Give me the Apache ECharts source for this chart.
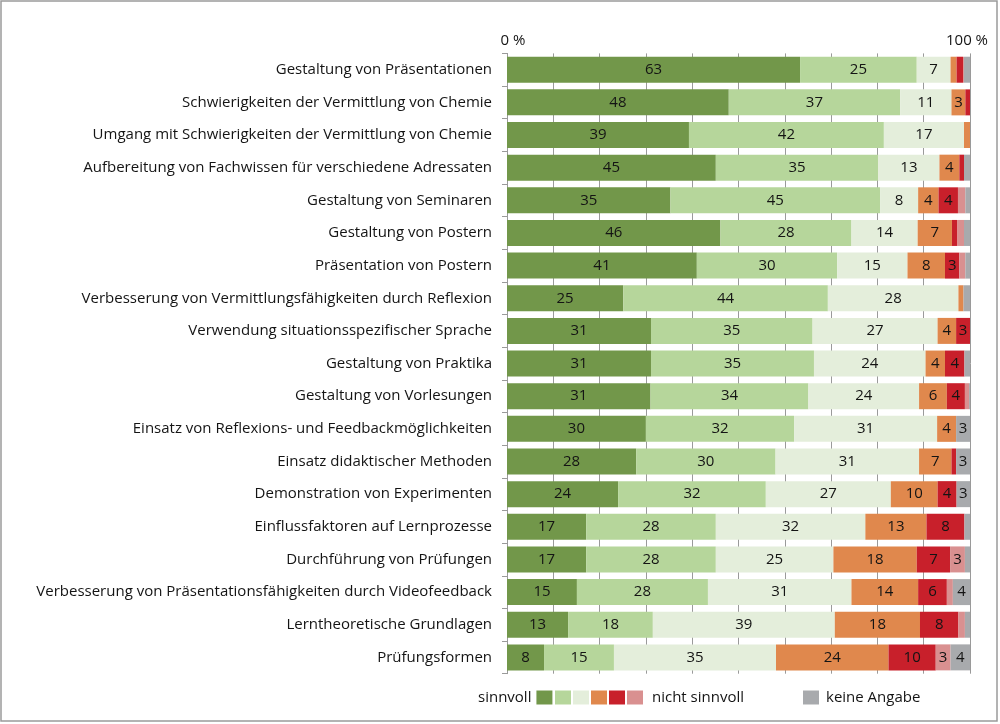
<!DOCTYPE html>
<html>
<head>
<meta charset="utf-8">
<script src="https://cdn.jsdelivr.net/npm/echarts@6/dist/echarts.min.js"></script>
<style>
html,body{margin:0;padding:0;background:#fff;}
#c{width:1000px;height:724px;}
</style>
</head>
<body>
<div id="c"></div>
<script>
const categories = [
  'Gestaltung von Präsentationen',
  'Schwierigkeiten der Vermittlung von Chemie',
  'Umgang mit Schwierigkeiten der Vermittlung von Chemie',
  'Aufbereitung von Fachwissen für verschiedene Adressaten',
  'Gestaltung von Seminaren',
  'Gestaltung von Postern',
  'Präsentation von Postern',
  'Verbesserung von Vermittlungsfähigkeiten durch Reflexion',
  'Verwendung situationsspezifischer Sprache',
  'Gestaltung von Praktika',
  'Gestaltung von Vorlesungen',
  'Einsatz von Reflexions- und Feedbackmöglichkeiten',
  'Einsatz didaktischer Methoden',
  'Demonstration von Experimenten',
  'Einflussfaktoren auf Lernprozesse',
  'Durchführung von Prüfungen',
  'Verbesserung von Präsentationsfähigkeiten durch Videofeedback',
  'Lerntheoretische Grundlagen',
  'Prüfungsformen'
];
const level1 = [63.3,47.9,39.3,45.1,35.3,46.1,41,25.1,31.1,31.1,31,30,27.9,24,17.1,17.1,15.1,13.2,8];
const level2 = [25.2,37,42.1,35.1,45.3,28.3,30.3,44.2,34.9,35.2,34.1,32,30.1,31.9,28,28,28.3,18.3,15.1];
const level3 = [7.3,11.1,17.3,13.2,8.2,14.3,15.2,28.2,27,24.1,23.9,30.9,31,27,32.3,25.4,31,39.3,35];
const level4 = [1.3,3,1.3,4.3,4.4,7.4,8.1,1.1,4,4.2,6,4.1,7,10.1,13.2,18,14.4,18.4,24.3];
const level5 = [1.4,1,0,1.0,4.2,1.2,3.1,0,3,4.2,3.9,0,1,4.1,8.2,7.2,6.2,8.3,10.2];
const level6 = [0.2,0,0,0,1.6,1.4,1.3,0,0,0,0.9,0,0,0,0,3.2,1.3,1.4,3.2];
const noAnswer = [1.3,0,0,1.3,1.0,1.3,1.0,1.4,0,1.2,0.2,3.0,3,2.9,1.2,1.1,3.7,1.1,4.2];
const seriesNames = ['sinnvoll','Stufe 2','Stufe 3','Stufe 4','Stufe 5','nicht sinnvoll','keine Angabe'];
const seriesData = [level1, level2, level3, level4, level5, level6, noAnswer];
const colors = ['#72974a','#b6d69b','#e4eedb','#e0884d','#c8202b','#d99090','#a8aaad'];
const xTickLabels = {0: '0 %', 100: '100 %'};

const FONT = 'Open Sans';
const TXT = '#141414';

const chart = echarts.init(document.getElementById('c'), null, {renderer: 'canvas'});
const series = seriesNames.map((n, i) => ({
  name: n,
  type: 'bar',
  stack: 'total',
  barWidth: 26,
  data: seriesData[i],
  itemStyle: {color: colors[i]},
  label: {
    show: true,
    position: 'inside',
    color: TXT,
    fontFamily: FONT,
    fontSize: 15,
    formatter: p => (p.value >= 2.5 ? String(Math.round(p.value)) : '')
  },
  emphasis: {disabled: true}
}));

chart.setOption({
  animation: false,
  textStyle: {fontFamily: FONT},
  graphic: [{
    type: 'rect', shape: {x: 1, y: 1, width: 996, height: 720},
    style: {fill: 'none', stroke: '#9a9a9a', lineWidth: 1.5}, silent: true
  }],
  grid: {left: 507, right: 30, top: 53.4, bottom: 50.3, containLabel: false, outerBoundsMode: 'none'},
  xAxis: {
    type: 'value', position: 'top', min: 0, max: 100, interval: 10,
    axisLine: {show: false}, axisTick: {show: false},
    splitLine: {show: true, lineStyle: {color: '#9a9a9a', width: 1}},
    axisLabel: {
      margin: 5, color: TXT, fontSize: 15, fontFamily: FONT,
      formatter: v => v === 0 ? '{a|' + xTickLabels[0] + '}' : (v === 100 ? '{b|' + xTickLabels[100] + '}' : ''),
      rich: {
        a: {padding: [0, 0, 0, 12], color: TXT, fontSize: 15, fontFamily: FONT},
        b: {padding: [0, 6, 0, 0], color: TXT, fontSize: 15, fontFamily: FONT}
      }
    }
  },
  yAxis: {
    type: 'category', inverse: true, data: categories,
    axisLine: {show: true, lineStyle: {color: '#9a9a9a', width: 1}},
    axisTick: {show: true, length: 5, lineStyle: {color: '#9a9a9a'}},
    axisLabel: {margin: 15, color: TXT, fontSize: 15, fontFamily: FONT}
  },
  legend: [
    {
      data: ['sinnvoll'], left: 478, top: 690, align: 'right', selectedMode: false, padding: 0,
      itemWidth: 16, itemHeight: 14, icon: 'rect', itemGap: 2,
      itemStyle: {borderWidth: 0},
      textStyle: {color: TXT, fontSize: 15, fontFamily: FONT}
    },
    {
      data: ['Stufe 2','Stufe 3','Stufe 4','Stufe 5','nicht sinnvoll'], left: 555, top: 690, selectedMode: false, padding: 0,
      itemWidth: 16, itemHeight: 14, icon: 'rect', itemGap: 2,
      itemStyle: {borderWidth: 0},
      formatter: n => n === 'nicht sinnvoll' ? '{t|nicht sinnvoll}' : '',
      textStyle: {color: TXT, fontSize: 15, fontFamily: FONT,
        rich: {t: {padding: [0, 0, 0, 4], color: TXT, fontSize: 15, fontFamily: FONT}}}
    },
    {
      data: ['keine Angabe'], left: 803, top: 690, selectedMode: false, padding: 0,
      itemWidth: 16, itemHeight: 14, icon: 'rect',
      itemStyle: {borderWidth: 0},
      formatter: n => '{t|' + n + '}',
      textStyle: {color: TXT, fontSize: 15, fontFamily: FONT,
        rich: {t: {padding: [0, 0, 0, 2], color: TXT, fontSize: 15, fontFamily: FONT}}}
    }
  ],
  series: series
});
</script>
</body>
</html>
